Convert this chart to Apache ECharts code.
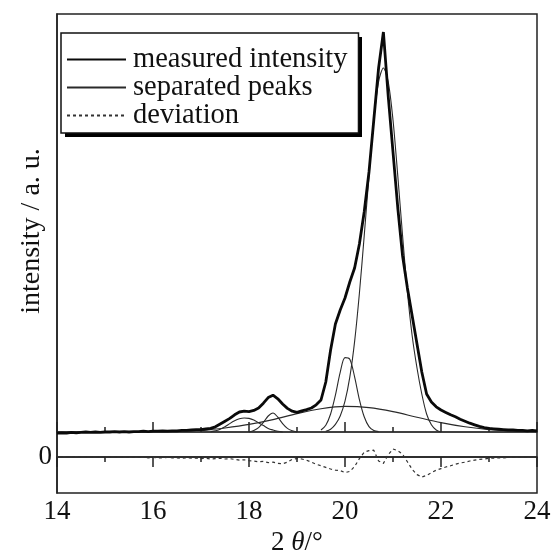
<!DOCTYPE html>
<html>
<head>
<meta charset="utf-8">
<script src="https://cdn.jsdelivr.net/npm/echarts@6/dist/echarts.min.js"></script>
<style>html,body{margin:0;padding:0;background:#fff;}#c{width:553px;height:556px;}</style>
</head>
<body>
<div id="c"></div>
<script>
// ---- data (2θ in degrees, intensity in arbitrary units) ----
const angles = [14.0,14.1,14.2,14.3,14.4,14.5,14.6,14.7,14.8,14.9,
  15.0,15.1,15.2,15.3,15.4,15.5,15.6,15.7,15.8,15.9,
  16.0,16.1,16.2,16.3,16.4,16.5,16.6,16.7,16.8,16.9,
  17.0,17.1,17.2,17.3,17.4,17.5,17.6,17.7,17.8,17.9,
  18.0,18.1,18.2,18.3,18.4,18.5,18.6,18.7,18.8,18.9,
  19.0,19.1,19.2,19.3,19.4,19.5,19.6,19.7,19.8,19.9,
  20.0,20.1,20.2,20.3,20.4,20.5,20.6,20.7,20.8,20.9,
  21.0,21.1,21.2,21.3,21.4,21.5,21.6,21.7,21.8,21.9,
  22.0,22.1,22.2,22.3,22.4,22.5,22.6,22.7,22.8,22.9,
  23.0,23.1,23.2,23.3,23.4,23.5,23.6,23.7,23.8,23.9,24.0];

const measured = [-0.3,-0.2,-0.3,-0.1,-0.2,-0.1,0.0,-0.1,0.0,-0.1,
  0.0,0.0,0.1,0.0,0.1,0.0,0.1,0.1,0.2,0.1,
  0.2,0.2,0.3,0.2,0.3,0.3,0.4,0.4,0.5,0.6,
  0.6,0.8,0.9,1.3,2.0,2.7,3.4,4.3,5.0,5.2,
  5.1,5.4,6.0,7.2,8.6,9.2,8.3,7.0,5.9,5.2,
  4.9,5.3,5.6,6.0,6.8,8.0,12.5,20.5,27.0,30.5,
  33.5,37.5,41.0,47.0,55.0,65.0,78.0,91.0,100.0,84.0,
  70.0,56.0,44.0,36.0,29.0,22.0,15.0,9.5,7.5,6.3,
  5.5,4.9,4.3,3.8,3.2,2.7,2.2,1.8,1.4,1.1,
  0.9,0.8,0.7,0.6,0.5,0.5,0.4,0.4,0.3,0.4,0.3];

const deviation = [0,0.1,0,0,0.1,0,0,0,0,0,
  0,0,0,0,0,-0.1,-0.1,-0.1,-0.1,-0.2,
  -0.1,-0.2,-0.2,-0.1,-0.2,-0.2,-0.3,-0.2,-0.3,-0.3,
  -0.4,-0.3,-0.5,-0.4,-0.3,-0.5,-0.4,-0.6,-0.8,-0.7,
  -0.9,-1.0,-1.2,-1.1,-1.4,-1.3,-1.6,-1.7,-1.3,-0.6,
  -0.4,-0.5,-0.8,-1.3,-1.8,-2.2,-2.6,-3.0,-3.3,-3.4,
  -3.9,-3.6,-2.4,-0.4,1.2,1.6,1.7,-1.0,-1.6,0.6,
  2.0,1.6,0.7,-1.2,-3.1,-4.4,-5.0,-4.6,-3.9,-3.3,
  -2.9,-2.5,-2.2,-1.8,-1.5,-1.3,-1.0,-0.8,-0.6,-0.5,
  -0.3,-0.3,-0.2,-0.2,-0.1,-0.1,-0.1,0,-0.1,0,0];

// separated peaks
const baselineAngles = [14, 24];
const baselineValues = [0, 0];

const humpAngles = [17.0,17.2,17.5,18.0,18.5,19.0,19.5,20.0,20.5,21.0,21.5,22.0,22.5,23.0,23.5,24.0];
const humpValues = [0.3,0.6,1.0,1.9,3.1,4.6,5.8,6.4,6.1,5.1,3.7,2.35,1.3,0.6,0.26,0.1];

const peakAAngles = [17.2,17.3,17.4,17.5,17.6,17.7,17.8,17.9,18.0,18.1,18.2,18.3,18.4,18.5,18.6,18.7];
const peakAValues = [0.1,0.3,0.7,1.3,2.1,2.8,3.3,3.5,3.4,3.0,2.3,1.6,0.9,0.5,0.2,0.0];

const peakBAngles = [18.0,18.1,18.2,18.3,18.4,18.5,18.6,18.7,18.8,18.9,19.0];
const peakBValues = [0.0,0.4,1.1,2.4,4.0,4.75,3.7,2.1,0.9,0.3,0.0];

const peakCAngles = [19.5,19.6,19.7,19.8,19.9,20.0,20.1,20.2,20.3,20.4,20.5,20.6,20.7];
const peakCValues = [0.5,1.7,4.5,9.2,14.9,18.6,18.2,13.8,8.1,3.8,1.35,0.4,0.1];

const peakDAngles = [19.6,19.7,19.8,19.9,20.0,20.1,20.2,20.3,20.4,20.5,20.6,20.7,20.8,
  20.9,21.0,21.1,21.2,21.3,21.4,21.5,21.6,21.7,21.8,21.9,22.0];
const peakDValues = [0.2,0.7,1.9,4.0,7.7,13.7,22.6,34.7,49,64,78,87.6,91,
  87.6,78,64,49,35,24,16,9.5,4.5,1.8,0.5,0.0];

const zeroAngles = [14, 24];
const zeroValues = [0, 0];

const xTickMin = 14, xTickMax = 24, xTickStep = 2;

// ---- chart ----
const FONT = 'Liberation Serif';
const INK = '#111';
function pairs(xs, ys) { return xs.map((x, i) => [x, ys[i]]); }

const thin = { color: '#2a2a2a', width: 1.1 };
function sepSeries(xs, ys) {
  return { name: 'separated peaks', type: 'line', data: pairs(xs, ys), symbol: 'none',
    smooth: 0.3, lineStyle: thin, color: '#2a2a2a', itemStyle: { opacity: 0 },
    xAxisIndex: 0, yAxisIndex: 0, z: 2, silent: true };
}

const chart = echarts.init(document.getElementById('c'), null, { renderer: 'canvas' });
const tickCommon = {
  show: true, inside: true, length: 10, lineStyle: { color: '#222', width: 1.5 }
};
const minorCommon = {
  show: true, splitNumber: 2, length: 5, lineStyle: { color: '#222', width: 1.5 }
};
chart.setOption({
  animation: false,
  backgroundColor: '#fff',
  grid: { left: 57, right: 16, top: 14, bottom: 63, show: true, outerBoundsMode: 'none',
    containLabel: false, borderColor: '#222', borderWidth: 1.5, backgroundColor: 'transparent' },
  legend: {
    orient: 'vertical', left: 61, top: 33, z: 10,
    padding: [12, 11, 3, 5], itemGap: -1, itemWidth: 59, itemHeight: 14,
    backgroundColor: '#fff', borderColor: '#111', borderWidth: 1.5,
    selectedMode: false,
    itemStyle: { opacity: 0 },
    textStyle: { fontFamily: FONT, fontSize: 28.5, color: INK,
      padding: [0, 0, 0, 2] },
    data: ['measured intensity', 'separated peaks', 'deviation']
  },
  xAxis: [
    { type: 'value', position: 'bottom', min: xTickMin, max: xTickMax, interval: xTickStep,
      axisLine: { show: true, lineStyle: { color: '#222', width: 1.5 } },
      axisTick: tickCommon, minorTick: minorCommon,
      splitLine: { show: false }, minorSplitLine: { show: false },
      axisLabel: { fontFamily: FONT, fontSize: 27, color: INK, margin: 5 },
      name: '2 {i|θ}/°', nameLocation: 'middle', nameGap: 36,
      nameTextStyle: { fontFamily: FONT, fontSize: 27, color: INK,
        rich: { i: { fontFamily: FONT, fontSize: 27, fontStyle: 'italic', color: INK } } }
    },
    { type: 'value', position: 'top', min: xTickMin, max: xTickMax, interval: xTickStep,
      axisLine: { show: true, lineStyle: { color: '#222', width: 1.5 } },
      axisTick: tickCommon, minorTick: minorCommon,
      splitLine: { show: false }, minorSplitLine: { show: false },
      axisLabel: { show: false }
    }
  ],
  yAxis: [
    { type: 'value', min: -15.25, max: 104.5, show: false, splitLine: { show: false } },
    { type: 'value', min: -9, max: 110.75, position: 'left',
      axisLine: { show: true, lineStyle: { color: '#222', width: 1.5 } },
      axisTick: { show: false }, splitLine: { show: false },
      axisLabel: { customValues: [0], fontFamily: FONT, fontSize: 27, color: INK, margin: 5 }
    }
  ],
  graphic: [
    { type: 'rect', z: 5, silent: true, shape: { x: 65, y: 37, width: 297, height: 100 },
      style: { fill: '#000' } },
    { type: 'text', x: 32, y: 231, rotation: Math.PI / 2, silent: true,
      style: { text: 'intensity / a. u.', font: '28px "Liberation Serif"', fill: INK,
        align: 'center', verticalAlign: 'middle' } }
  ],
  series: [
    sepSeries(baselineAngles, baselineValues),
    sepSeries(humpAngles, humpValues),
    sepSeries(peakAAngles, peakAValues),
    sepSeries(peakBAngles, peakBValues),
    sepSeries(peakCAngles, peakCValues),
    sepSeries(peakDAngles, peakDValues),
    { name: 'zero', type: 'line', data: pairs(zeroAngles, zeroValues), symbol: 'none',
      lineStyle: { color: '#222', width: 1.3 }, xAxisIndex: 0, yAxisIndex: 1, silent: true },
    { name: 'deviation', type: 'line', data: pairs(angles, deviation), symbol: 'none',
      color: '#333', itemStyle: { opacity: 0 },
      lineStyle: { color: '#333', width: 1.2, type: [3, 3] }, xAxisIndex: 0, yAxisIndex: 1, z: 3, silent: true },
    { name: 'measured intensity', type: 'line', data: pairs(angles, measured), symbol: 'none',
      color: '#0a0a0a', itemStyle: { opacity: 0 },
      lineStyle: { color: '#0a0a0a', width: 2.8 }, xAxisIndex: 0, yAxisIndex: 0, z: 4, silent: true }
  ]
});
</script>
</body>
</html>
